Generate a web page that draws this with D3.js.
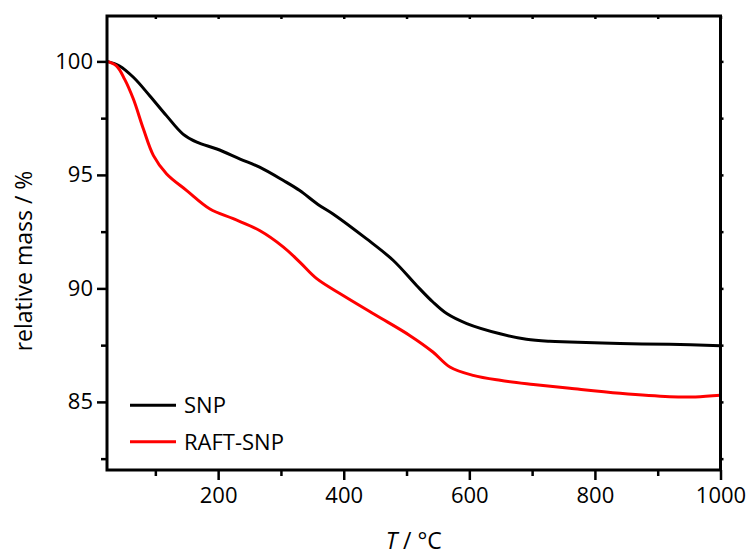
<!DOCTYPE html>
<html><head><meta charset="utf-8">
<script src="https://cdn.jsdelivr.net/npm/d3@7"></script>
<style>body{margin:0;background:#fff}svg{display:block}</style>
</head><body>
<svg id="c" width="750" height="556"></svg>
<script>
const seriesNames = ["SNP", "RAFT-SNP"];
const seriesColors = ["#000000", "#ff0000"];
const snpT = [23,43,65,91,118,144,166,198,235,266,304,330,359,383,436,479,516,542,564,596,649,691,728,760,840,919,1000];
const snpM = [100,99.8,99.3,98.49,97.6,96.8,96.44,96.14,95.7,95.34,94.75,94.31,93.7,93.28,92.19,91.23,90.13,89.4,88.89,88.45,88.0,87.76,87.67,87.64,87.57,87.54,87.47];
const raftT = [23,38,51,65,81,97,118,150,187,224,266,304,330,357,399,452,505,542,569,606,649,702,760,840,919,960,1000];
const raftM = [100,99.8,99.22,98.34,97.02,95.85,95.04,94.31,93.5,93.07,92.55,91.82,91.16,90.43,89.69,88.81,87.93,87.2,86.54,86.17,85.95,85.77,85.6,85.38,85.23,85.22,85.29];
const xMajor = [200,400,600,800,1000];
const xMinor = [100,300,500,700,900];
const yMajor = [85,90,95,100];
const yMinor = [82.5,87.5,92.5,97.5];

const svg = d3.select("#c");
const L=107, R=720.5, T=16, B=470;
const x = d3.scaleLinear().domain([23,1000]).range([L,R]);
const y = d3.scaleLinear().domain([82,102]).range([B,T]);
const font = "'Open Sans', sans-serif";

const series = [
  {name: seriesNames[0], color: seriesColors[0], T: snpT, M: snpM},
  {name: seriesNames[1], color: seriesColors[1], T: raftT, M: raftM}
];
const line = d3.line().x(d=>x(d[0])).y(d=>y(d[1])).curve(d3.curveCatmullRom.alpha(0.5));
const g = svg.append("g");
series.forEach(s=>{
  g.append("path").datum(s.T.map((t,i)=>[t,s.M[i]]))
    .attr("d", line).attr("fill","none").attr("stroke", s.color).attr("stroke-width",3)
    .attr("stroke-linejoin","round");
});

function styleAxis(sel){
  sel.select(".domain").remove();
  sel.selectAll("line").attr("stroke","#000").attr("stroke-width",2.5);
  sel.selectAll("text").attr("font-family",font).attr("font-size","22px").attr("fill","#000");
}
// bottom
svg.append("g").attr("transform",`translate(0,${B})`)
  .call(d3.axisBottom(x).tickValues(xMajor).tickSize(10).tickPadding(7).tickFormat(d3.format("d"))).call(styleAxis);
svg.append("g").attr("transform",`translate(0,${B})`)
  .call(d3.axisBottom(x).tickValues(xMinor).tickSize(6).tickFormat("")).call(styleAxis);
// left
svg.append("g").attr("transform",`translate(${L},0)`)
  .call(d3.axisLeft(y).tickValues(yMajor).tickSize(10).tickPadding(4).tickFormat(d3.format("d"))).call(styleAxis);
svg.append("g").attr("transform",`translate(${L},0)`)
  .call(d3.axisLeft(y).tickValues(yMinor).tickSize(6).tickFormat("")).call(styleAxis);
// top (small inward)
svg.append("g").attr("transform",`translate(0,${T})`)
  .call(d3.axisBottom(x).tickValues(xMajor.concat(xMinor)).tickSize(3).tickFormat("")).call(styleAxis);
// right (small outward)
svg.append("g").attr("transform",`translate(${R},0)`)
  .call(d3.axisRight(y).tickValues(yMajor.concat(yMinor)).tickSize(3).tickFormat("")).call(styleAxis);

// frame
svg.append("rect").attr("x",L).attr("y",T).attr("width",R-L).attr("height",B-T)
  .attr("fill","none").attr("stroke","#000").attr("stroke-width",3);

// legend
const legY = [y(84.85), y(83.25)];
series.forEach((s,i)=>{
  svg.append("line").attr("x1",130).attr("x2",176).attr("y1",legY[i]).attr("y2",legY[i])
    .attr("stroke",s.color).attr("stroke-width",3);
  svg.append("text").attr("x",184).attr("y",legY[i]).attr("dy","0.36em")
    .attr("font-family",font).attr("font-size","22px").text(s.name);
});

// axis titles
svg.append("text").attr("transform",`translate(32,${261}) rotate(-90)`).attr("text-anchor","middle")
  .attr("font-family",font).attr("font-size","23px").text("relative mass / %");
const xt = svg.append("text").attr("x",(L+R)/2).attr("y",549).attr("text-anchor","middle")
  .attr("font-family",font).attr("font-size","23px");
xt.append("tspan").attr("font-style","italic").text("T");
xt.append("tspan").text(" / °C");
</script>
</body></html>
